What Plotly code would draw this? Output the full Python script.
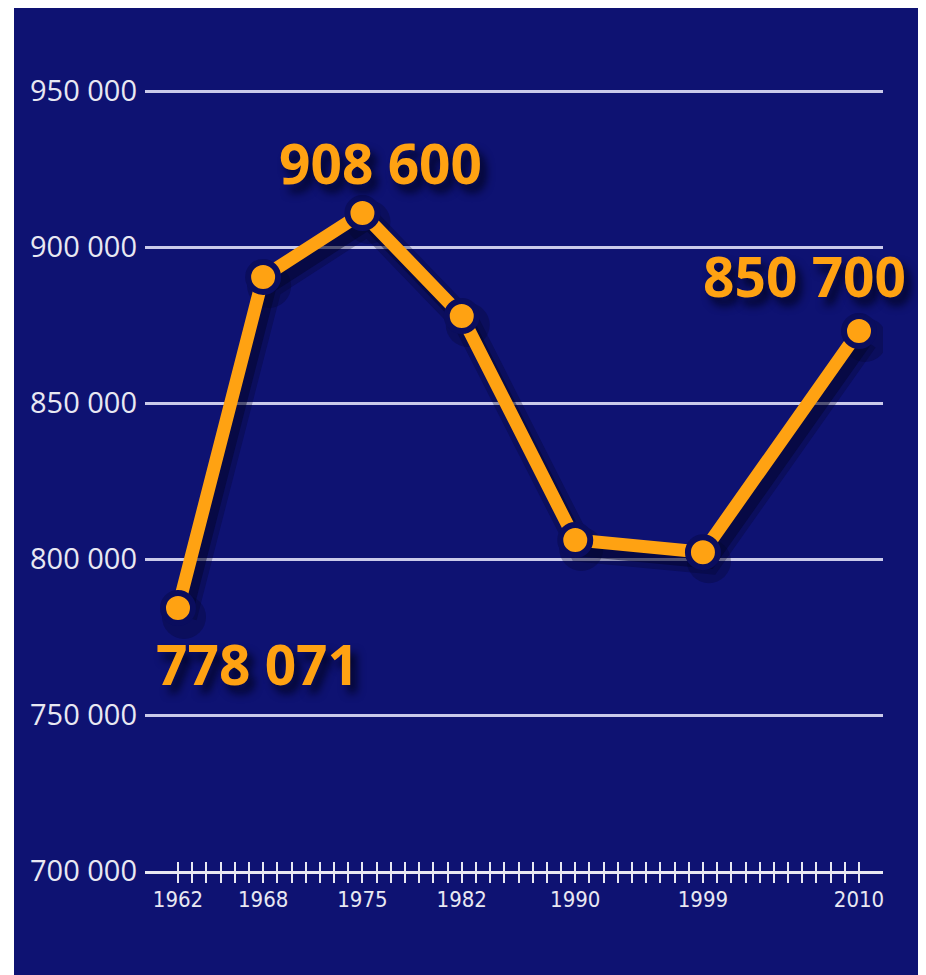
import plotly.graph_objects as go

# ---- data ----
years = [1962, 1968, 1975, 1982, 1990, 1999, 2010]
values = [784300, 890400, 910900, 877900, 806100, 802200, 873100]
label_years = [1962, 1975, 2010]
label_values = [784300, 910900, 873100]
label_texts = ["778 071", "908 600", "850 700"]
y_ticks = [700000, 750000, 800000, 850000, 900000, 950000]
x_label_years = [1962, 1968, 1975, 1982, 1990, 1999, 2010]
tick_years = list(range(1962, 2011))

# ---- geometry / style ----
W, H = 926, 975
L, R, T, B = 137, 51, 42, 112
plot_w = W - L - R
plot_h = H - T - B
ppy = 681 / 48.0                     # pixels per year
x0 = 1962 - 33 / ppy
x1 = x0 + plot_w / ppy
vpp = 50000 / 156.0                  # value per pixel
y0 = 700000
y1 = y0 + plot_h * vpp

BG = "#0e1272"
ORANGE = "#ffa212"
RING = "#0a0d5e"
WHITE = "#e8e8f2"
SH_DX, SH_DY = 6, 9

fig = go.Figure()

# shadow traces on shifted (invisible) base axes
fig.add_trace(go.Scatter(x=years, y=values, mode="lines+markers", xaxis="x", yaxis="y",
                         line=dict(color="rgba(2,4,40,0.28)", width=26),
                         marker=dict(size=44, color="rgba(2,4,40,0.28)"),
                         hoverinfo="skip", showlegend=False))
fig.add_trace(go.Scatter(x=years, y=values, mode="lines", xaxis="x", yaxis="y",
                         line=dict(color="rgba(2,4,40,0.45)", width=15),
                         hoverinfo="skip", showlegend=False))

# main line
fig.add_trace(go.Scatter(x=years, y=values, mode="lines+markers", xaxis="x2", yaxis="y2",
                         line=dict(color=ORANGE, width=13),
                         marker=dict(size=30, color=ORANGE, line=dict(color=RING, width=6)),
                         showlegend=False))

ann = []
offsets = [(79, -56), (18, 50), (-55, 55)]
for yr, v, t, (dx, dy) in zip(label_years, label_values, label_texts, offsets):
    ann.append(dict(x=yr, y=v, xref="x2", yref="y2", text=t, showarrow=False,
                    xshift=dx, yshift=dy,
                    font=dict(family="Open Sans", size=55, color=ORANGE, weight=700,
                              shadow="6px 8px 8px rgba(2,4,38,0.95)")))

ticktext = [str(y) if y in x_label_years else "" for y in tick_years]

fig.update_layout(
    width=W, height=H,
    margin=dict(l=L, r=R, t=T, b=B, pad=0),
    paper_bgcolor="white",
    plot_bgcolor="rgba(0,0,0,0)",
    separators=". ",
    showlegend=False,
    xaxis=dict(range=[x0 - SH_DX / ppy, x1 - SH_DX / ppy], visible=False, fixedrange=True),
    yaxis=dict(range=[y0 + SH_DY * vpp, y1 + SH_DY * vpp], visible=False, fixedrange=True),
    xaxis2=dict(range=[x0, x1], overlaying="x", anchor="y2", side="bottom",
                tickmode="array", tickvals=tick_years, ticktext=ticktext,
                ticks="outside", ticklen=9, tickwidth=2, tickcolor=WHITE,
                showline=True, linecolor=WHITE, linewidth=3,
                showgrid=False, zeroline=False, ticklabelstandoff=-2,
                tickfont=dict(family="Liberation Sans Narrow, DejaVu Sans Condensed, Liberation Sans",
                              size=22, color=WHITE)),
    xaxis3=dict(range=[x0, x1], overlaying="x", anchor="y2", side="bottom",
                tickmode="array", tickvals=tick_years, showticklabels=False,
                ticks="inside", ticklen=9, tickwidth=2, tickcolor=WHITE,
                showgrid=False, zeroline=False),
    yaxis2=dict(range=[y0, y1], overlaying="y", anchor="x2", side="left",
                tickmode="array", tickvals=y_ticks, tickformat=",d",
                showgrid=True, gridcolor="rgba(235,235,255,0.85)", gridwidth=3,
                zeroline=False, showline=False, ticks="", ticklabelstandoff=7,
                tickfont=dict(family="Open Sans", size=29, color=WHITE)),
    annotations=ann,
    shapes=[dict(type="rect", xref="paper", yref="paper", layer="below",
                 x0=(6 - L) / plot_w, x1=(915 - L) / plot_w,
                 y0=-(B + 5) / plot_h, y1=(plot_h + T) / plot_h,
                 fillcolor=BG, line=dict(width=0))],
)

# dummy trace so xaxis3 is rendered
fig.add_trace(go.Scatter(x=[None], y=[None], xaxis="x3", yaxis="y2", showlegend=False, hoverinfo="skip"))

fig.write_html("out.html")
